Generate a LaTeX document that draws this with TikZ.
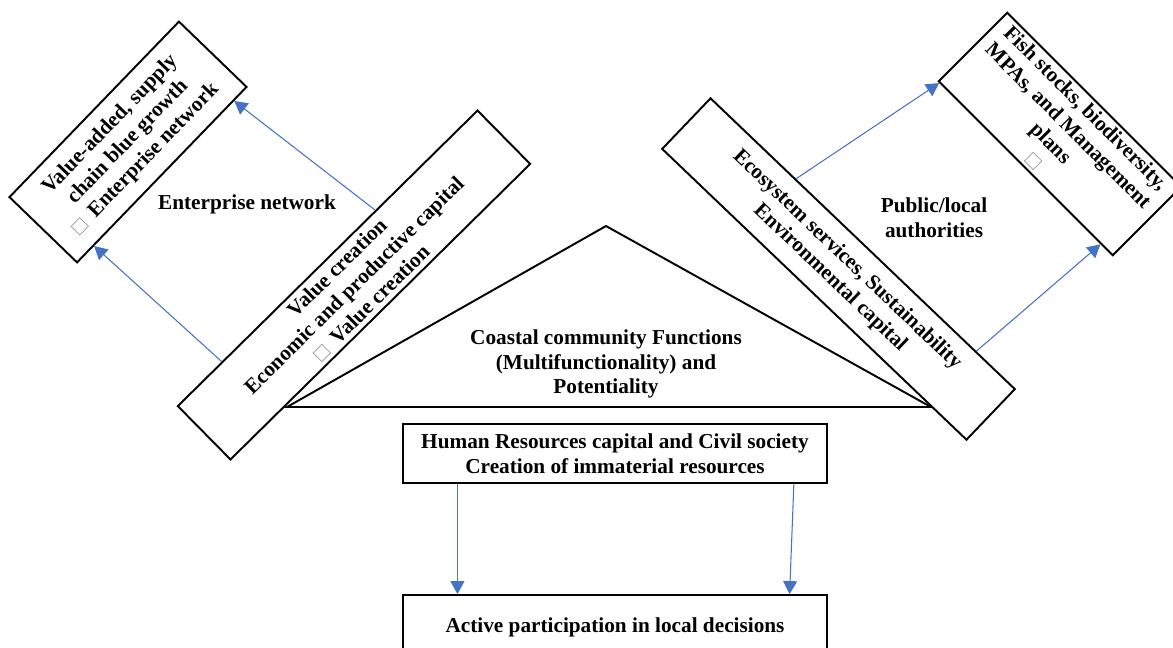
\documentclass[tikz,border=0pt]{standalone}
\usepackage{fontspec}
\setmainfont{Liberation Serif}
\usetikzlibrary{arrows.meta,calc}

\definecolor{flowblue}{HTML}{4472C4}
\newcommand{\boxmark}{\textcolor{gray}{\fboxsep=0pt\fboxrule=0.3pt\fbox{\rule{0pt}{0.55em}\hspace{0.55em}}}}

\begin{document}
\begin{tikzpicture}[x=0.02cm,y=-0.02cm,
  txt/.style={font=\fontsize{12.1}{14}\selectfont\bfseries, align=center},
  capbox/.style={txt, draw, line width=1.1pt, inner sep=0pt},
  flow/.style={draw=flowblue, line width=0.6pt, -{Triangle[length=7.4pt,width=8pt]}}]
\useasboundingbox (0,0) rectangle (1173,647);
\clip (0,0) rectangle (1173,647);

% triangle in the middle
\coordinate (apex) at (606,226); \coordinate (bl) at (287,407); \coordinate (br) at (931,407);
\draw[line width=1.1pt] (apex) -- (br) -- (bl) -- cycle;
\node[txt] (coast) at (606,364) {Coastal community Functions\\(Multifunctionality) and\\Potentiality};

% slanted boxes
\node[capbox, rotate=46, minimum width=4.88cm, minimum height=1.88cm] (vab) at (128,142)
  {Value-added, supply\\chain blue growth\\\boxmark\enspace Enterprise network};
\node[capbox, rotate=44.6, minimum width=8.42cm, minimum height=1.5cm] (eco) at (354,285)
  {Value creation\\Economic and productive capital\\\boxmark\enspace Value creation};
\node[capbox, rotate=-43.7, minimum width=8.42cm, minimum height=1.4cm] (eso) at (838.5,269)
  {Ecosystem services, Sustainability\\Environmental capital};
\node[capbox, rotate=-45, minimum width=4.92cm, minimum height=1.94cm] (fish) at (1060,134)
  {Fish stocks, biodiversity,\\MPAs, and Management\\plans\\\boxmark};

% bottom boxes
\node[capbox, minimum width=8.48cm, minimum height=1.18cm] (hr) at (615,453.5)
  {Human Resources capital and Civil society\\Creation of immaterial resources};
\node[capbox, minimum width=8.48cm, minimum height=1.28cm] (act) at (615,627)
  {Active participation in local decisions};

\node[txt] (entlbl) at (247,204) {Enterprise network};
\node[txt] (publbl) at (934,218) {Public/local\\authorities};

% arrows
\draw[flow] ($(eco.north west)!0.15!(eco.north east)$) -- ($(vab.south west)!0.10!(vab.south east)$);
\draw[flow] ($(eco.north west)!0.66!(eco.north east)$) -- ($(vab.south west)!0.92!(vab.south east)$);
\draw[flow] ($(eso.north west)!0.28!(eso.north east)$) -- ($(fish.south west)!0.01!(fish.south east)$);
\draw[flow] ($(eso.north west)!0.87!(eso.north east)$) -- ($(fish.south west)!0.93!(fish.south east)$);
\draw[flow] ($(hr.south west)!0.13!(hr.south east)$) -- ($(act.north west)!0.13!(act.north east)$);
\draw[flow] ($(hr.south west)!0.92!(hr.south east)$) -- ($(act.north west)!0.91!(act.north east)$);
\end{tikzpicture}
\end{document}
